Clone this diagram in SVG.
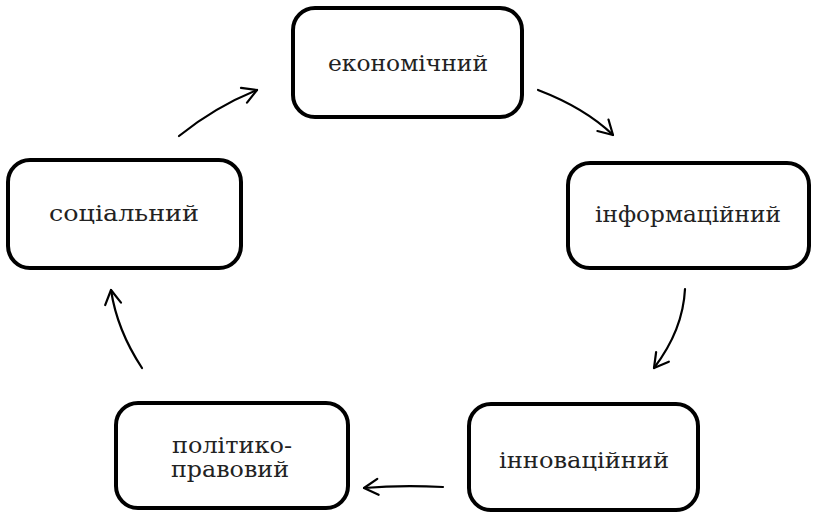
<svg xmlns="http://www.w3.org/2000/svg" width="819" height="514" viewBox="0 0 819 514">
<style>
.box{fill:#fff;stroke:#000;stroke-width:4}
.t{font-family:'DejaVu Serif',serif;font-size:23px;fill:#222;text-anchor:middle}
.c{fill:none;stroke:#000;stroke-width:2.2;stroke-linecap:round}
</style>
<defs>
<marker id="ah" viewBox="0 0 20 20" refX="18" refY="10" markerWidth="20" markerHeight="20" markerUnits="userSpaceOnUse" orient="auto">
<path d="M4,2 L18,10 L4,18" fill="none" stroke="#000" stroke-width="2.2" stroke-linecap="round" stroke-linejoin="round"/>
</marker>
</defs>
<rect width="819" height="514" fill="#fff"/>
<g id="economic"><rect class="box" x="293" y="8" width="229" height="109" rx="22"/><text class="t" x="408" y="71" textLength="160" lengthAdjust="spacingAndGlyphs">економічний</text></g>
<g id="social"><rect class="box" x="8" y="160" width="233" height="108" rx="22"/><text class="t" x="124" y="221" textLength="150" lengthAdjust="spacingAndGlyphs">соціальний</text></g>
<g id="information"><rect class="box" x="568" y="163" width="241" height="105" rx="22"/><text class="t" x="688" y="222" textLength="186" lengthAdjust="spacingAndGlyphs">інформаційний</text></g>
<g id="innovation"><rect class="box" x="469" y="404" width="229" height="106" rx="22"/><text class="t" x="584" y="468" textLength="170" lengthAdjust="spacingAndGlyphs">інноваційний</text></g>
<g id="political"><rect class="box" x="116" y="403" width="232" height="105" rx="22"/><text class="t" x="232" y="453" textLength="120" lengthAdjust="spacingAndGlyphs">політико-</text><text class="t" x="230" y="477" textLength="118" lengthAdjust="spacingAndGlyphs">правовий</text></g>
<g id="connectors">
<path class="c" d="M179,136 Q215,107 257,90" marker-end="url(#ah)"/>
<path class="c" d="M538,90 Q585,108 613,135" marker-end="url(#ah)"/>
<path class="c" d="M685,289 Q683,330 654,368" marker-end="url(#ah)"/>
<path class="c" d="M443,487 Q400,485 364,488" marker-end="url(#ah)"/>
<path class="c" d="M142,368 Q117,330 111,290" marker-end="url(#ah)"/>
</g>
</svg>
